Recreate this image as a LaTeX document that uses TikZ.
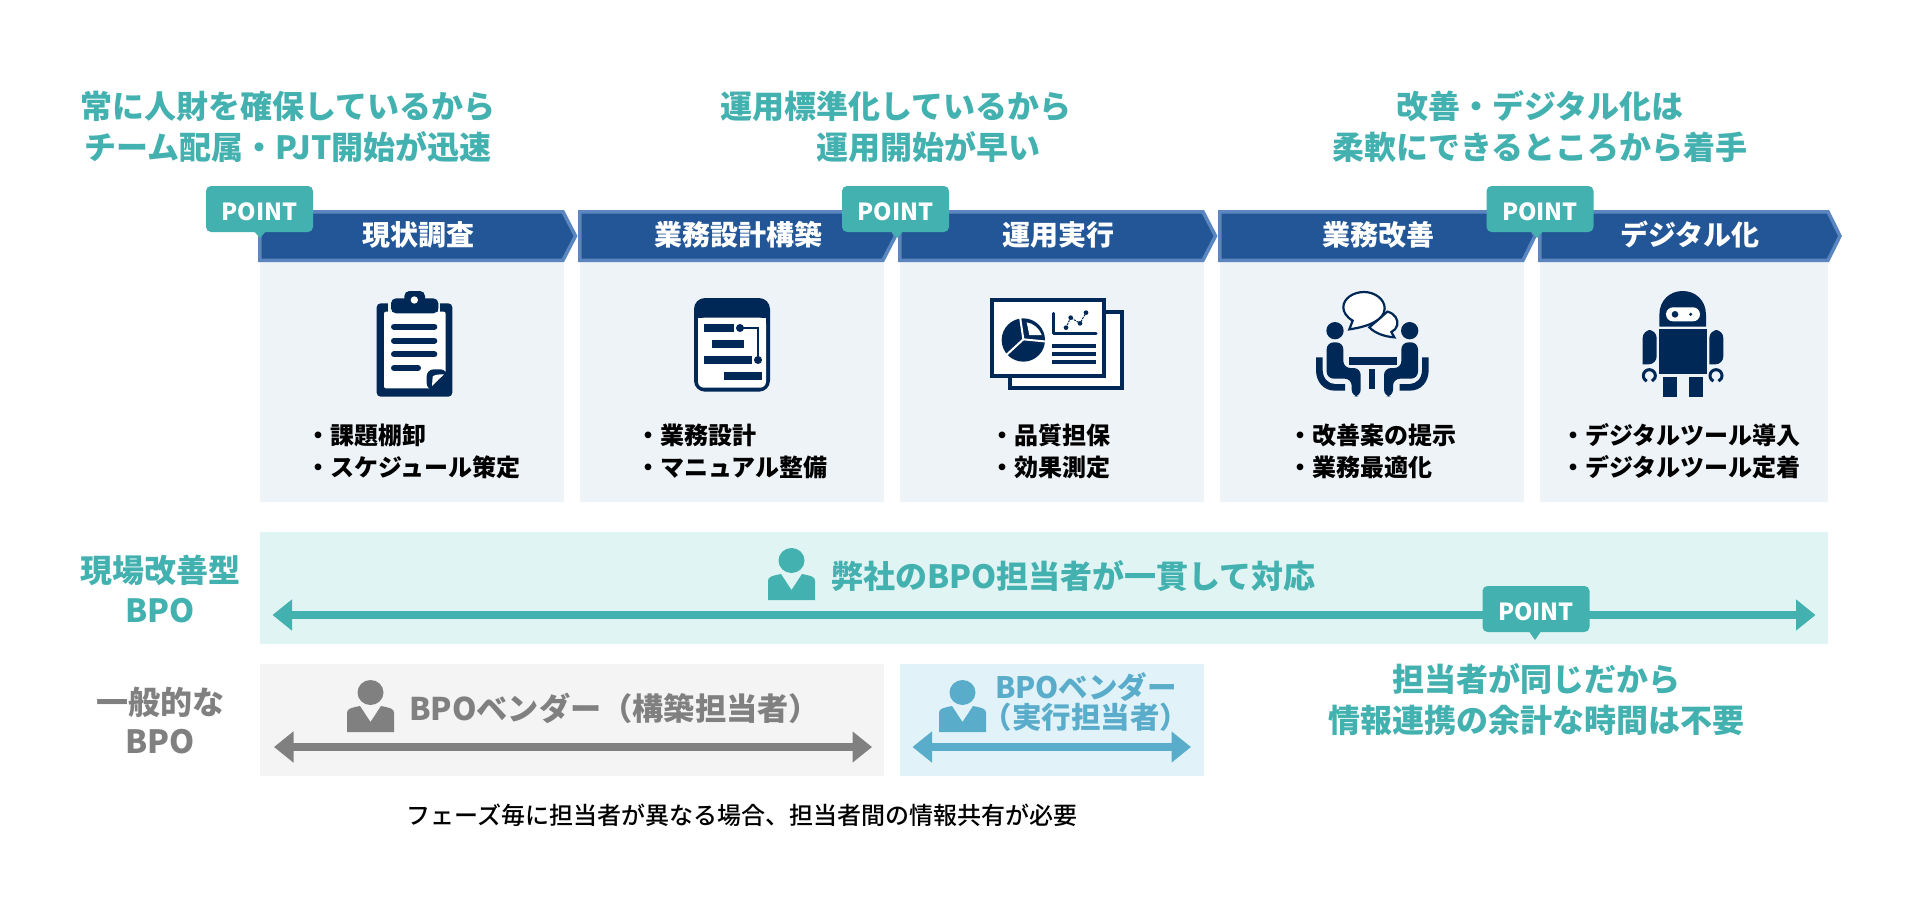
\documentclass[tikz,border=0pt]{standalone}
\usepackage{fontspec}
\setmainfont{Noto Sans CJK JP}
\newfontfamily\mediumfont{Noto Sans CJK JP Medium}
\usetikzlibrary{arrows.meta,calc}
\definecolor{teal}{HTML}{43B1AF}
\definecolor{navy}{HTML}{002856}
\definecolor{bannerfill}{HTML}{235696}
\definecolor{bannerline}{HTML}{5B86BF}
\definecolor{panelfill}{HTML}{EEF3F8}
\definecolor{bandteal}{HTML}{E0F5F3}
\definecolor{bandgray}{HTML}{F4F4F4}
\definecolor{bandblue}{HTML}{E1F3F9}
\definecolor{midgray}{HTML}{808080}
\definecolor{skyblue}{HTML}{5AACCB}
\newcommand{\fs}[1]{\fontsize{#1}{#1}\selectfont}
\tikzset{
  txt/.style={inner sep=0pt,outer sep=0pt,font=\bfseries\fs{#1}},
  headline/.style={txt=32,text=teal},
  bannerlabel/.style={txt=28,text=white},
  listitem/.style={txt=24,text=black,anchor=west},
  badge/.style={fill=teal,rounded corners=5pt,minimum width=107pt,minimum height=46pt,
    inner sep=0pt,text=white,text height=22pt,text depth=0pt,font=\bfseries\fs{23.5}},
  bannershape/.style={fill=bannerfill,draw=bannerline,line width=3.5pt,miter limit=10},
  panel/.style={fill=panelfill},
  biarrow/.style={line width=8pt,{Triangle[length=19.5pt,width=30pt]}-{Triangle[length=19.5pt,width=30pt]}},
  icon/.style={x=0.33333pt,y=-0.33333pt},
}
% Chevron banner: left edge, shoulder, tip (outer extents)
\newcommand{\chevron}[3]{%
  \draw[bannershape] (#1+1.75,211.75) -- (#2-1,211.75) -- (#3-2,236) -- (#2-1,260.25) -- (#1+1.75,260.25) -- cycle;}
% Bust of a person: left edge, top, colour
\newcommand{\personicon}[3]{%
  \begin{scope}[shift={(#1,#2)}]
    \fill[#3] (23.5,12.5) ellipse[x radius=13,y radius=12.5];
    \fill[#3] (0,52) -- (0,33) .. controls (0,29) and (3,28) .. (13,26) -- (23.5,42) -- (34,26)
      .. controls (44,28) and (47,29) .. (47,33) -- (47,52) -- cycle;
  \end{scope}}
% One seated figure with chair, drawn for the left side of the meeting icon
\newcommand{\seatedfigure}{%
  \fill[navy] (105,152) circle[radius=26];
  \fill[navy,rounded corners=7pt] (80,187) -- (130,187) -- (130,264) -- (182,264) -- (182,350)
     -- (155,350) -- (155,296) -- (80,296) -- cycle;
  \fill[navy] (48,232) -- (68,232) -- (68,270) .. controls (68,295) and (85,312) .. (105,312)
     -- (135,312) -- (135,332) -- (105,332) .. controls (70,332) and (48,305) .. (48,270) -- cycle;}

\begin{document}
\begin{tikzpicture}[x=1pt,y=-1pt]
\useasboundingbox (0,0) rectangle (1920,908);
\fill[white] (0,0) rectangle (1920,908);

% Headlines over the phases
\node[headline] (h1a) at (288,106) {常に人財を確保しているから};
\node[headline] (h1b) at (288,147) {チーム配属・PJT開始が迅速};
\node[headline] (h2a) at (896,106) {運用標準化しているから};
\node[headline] (h2b) at (928,147) {運用開始が早い};
\node[headline] (h3a) at (1540,106) {改善・デジタル化は};
\node[headline] (h3b) at (1540,147) {柔軟にできるところから着手};

% Panels under the banners
\fill[panel] (259.5,262) rectangle (564,502);
\fill[panel] (580,262) rectangle (884,502);
\fill[panel] (900,262) rectangle (1204,502);
\fill[panel] (1220,262) rectangle (1524,502);
\fill[panel] (1540,262) rectangle (1828,502);

% Phase banners
\chevron{258}{564}{577.5}
\chevron{578}{884}{897.5}
\chevron{898}{1204}{1217.5}
\chevron{1218}{1524}{1537}
\chevron{1538}{1829}{1842}
\node[bannerlabel] (b1) at (418,235) {現状調査};
\node[bannerlabel] (b2) at (738,235) {業務設計構築};
\node[bannerlabel] (b3) at (1058,235) {運用実行};
\node[bannerlabel] (b4) at (1378,235) {業務改善};
\node[bannerlabel] (b5) at (1690,235) {デジタル化};

% POINT badges
\fill[teal] (253,230) -- (267,230) -- (260,238) -- cycle;
\node[badge] (p1) at (259.5,209) {POINT};
\fill[teal] (890,230) -- (904,230) -- (897,238) -- cycle;
\node[badge] (p2) at (895.5,209) {POINT};
\fill[teal] (1530,230) -- (1544,230) -- (1537,238) -- cycle;
\node[badge] (p3) at (1540,209) {POINT};

% Clipboard icon
\begin{scope}[shift={(360,280)},icon]
  \fill[navy,rounded corners=4pt] (50,70) rectangle (277,350);
  \fill[white,rounded corners=2pt] (72,95) rectangle (257,325);
  \fill[panelfill] (88,60) rectangle (240,70);
  \fill[panelfill] (85,68) rectangle (95,95);
  \fill[panelfill] (235,68) rectangle (241,95);
  \fill[navy,rounded corners=5pt] (93,55) rectangle (235,100);
  \fill[navy,rounded corners=5pt] (133,33) rectangle (195,70);
  \fill[white] (163,60) circle[radius=11];
  \foreach \ly/\lx in {140/232,182/232,223/232,264/183}
    \draw[navy,line width=6pt,line cap=round] (102,\ly) -- (\lx-9,\ly);
  \fill[navy,rounded corners=7pt] (200,330) -- (200,268) -- (262,268) -- (262,330) -- cycle;
  \fill[white] (216,318) -- (218,290) .. controls (222,285) and (230,283) .. (252,283) -- cycle;
\end{scope}

% Process sheet icon
\begin{scope}[shift={(360,280)},icon]
  \fill[navy,rounded corners=11pt] (1002,54) rectangle (1230,335);
  \fill[white,rounded corners=6pt] (1014,113) rectangle (1218,323);
  \fill[white] (1014,113) rectangle (1218,130);
  \fill[navy] (1032,132) rectangle (1122,156);
  \fill[navy] (1056,180) rectangle (1152,204);
  \fill[navy] (1032,228) rectangle (1176,252);
  \fill[navy] (1092,276) rectangle (1206,300);
  \draw[navy,line width=2pt] (1140,144) -- (1194,144) -- (1194,240);
  \fill[navy] (1140,144) circle[radius=12];
  \fill[navy] (1194,240) circle[radius=12];
\end{scope}

% Report icon
\begin{scope}[shift={(970,280)},icon]
  \draw[navy,line width=4pt,fill=white] (120,96) rectangle (456,324);
  \draw[navy,line width=4pt,fill=white] (66,60) rectangle (402,288);
  \fill[navy] (160,180) circle[radius=65];
  \draw[white,line width=2pt] (150,110) -- (160,178) -- (232,185);
  \draw[white,line width=2pt] (160,178) -- (110,224);
  \fill[white] (170,127) .. controls (190,130) and (208,145) .. (215,165) -- (178,165) -- cycle;
  \draw[navy,line width=3pt,line cap=round,line join=round] (250,100) -- (250,160) -- (378,160);
  \draw[navy,line width=1pt,dash pattern=on 2pt off 1pt] (288,143) -- (302,113) -- (330,130) -- (348,98);
  \foreach \px/\py in {288/143,302/113,330/130,348/98}
    \fill[navy] (\px,\py) circle[radius=7];
  \foreach \ly in {198,222,246}
    \fill[navy] (246,\ly-6) rectangle (378,\ly+6);
\end{scope}

% Meeting icon
\begin{scope}[shift={(1300,280)},icon]
  \draw[navy,line width=2.2pt,fill=white] (262,95) .. controls (285,100) and (295,120) .. (292,135)
     .. controls (290,145) and (282,152) .. (274,156) -- (283,172) .. controls (255,170) and (225,160) .. (208,142) -- cycle;
  \draw[navy,line width=2.2pt,fill=white] (148,148) -- (158,122) .. controls (138,110) and (130,95) .. (130,82)
     .. controls (130,55) and (160,36) .. (192,36) .. controls (225,36) and (254,58) .. (254,85)
     .. controls (254,120) and (205,140) .. cycle;
  \fill[navy] (148,232) rectangle (290,256);
  \fill[navy] (208,268) rectangle (226,326);
  \seatedfigure
\end{scope}
\begin{scope}[shift={(1444.67,280)},x=-0.33333pt,y=-0.33333pt]
  \seatedfigure
\end{scope}

% Robot icon
\begin{scope}[shift={(1620,280)},icon]
  \fill[navy] (118,140) -- (118,105) .. controls (118,60) and (150,33) .. (188,33)
     .. controls (226,33) and (258,60) .. (258,105) -- (258,140) -- cycle;
  \fill[white,rounded corners=7pt] (138,82) rectangle (240,124);
  \fill[navy] (165,103) circle[radius=10];
  \fill[navy] (212,103) circle[radius=5];
  \fill[navy] (118,147) rectangle (260,283);
  \fill[navy,rounded corners=8pt] (68,253) -- (68,150) -- (110,150) -- (110,253) [sharp corners] -- cycle;
  \fill[navy,rounded corners=8pt] (268,253) -- (268,150) -- (310,150) -- (310,253) [sharp corners] -- cycle;
  \draw[navy,line width=3pt] (88,287) +(115:18) arc[start angle=115,end angle=425,radius=18];
  \draw[navy,line width=3pt] (288,287) +(115:18) arc[start angle=115,end angle=425,radius=18];
  \fill[navy] (130,291) rectangle (172,350);
  \fill[navy] (207,291) rectangle (250,350);
\end{scope}

% Task lists
\node[listitem] (l1a) at (306.5,435) {・課題棚卸};
\node[listitem] (l1b) at (306.5,467) {・スケジュール策定};
\node[listitem] (l2a) at (636,435) {・業務設計};
\node[listitem] (l2b) at (636,467) {・マニュアル整備};
\node[listitem] (l3a) at (990.5,435) {・品質担保};
\node[listitem] (l3b) at (990.5,467) {・効果測定};
\node[listitem] (l4a) at (1288.5,435) {・改善案の提示};
\node[listitem] (l4b) at (1288.5,467) {・業務最適化};
\node[listitem] (l5a) at (1561,435) {・デジタルツール導入};
\node[listitem] (l5b) at (1561,467) {・デジタルツール定着};

% Responsibility bands
\fill[bandteal] (260,532) rectangle (1828,644);
\fill[bandgray] (260,664) rectangle (884,776);
\fill[bandblue] (900,664) rectangle (1204,776);

\node[txt=32,text=teal] (r1) at (160,570) {現場改善型};
\node[txt=32,text=teal] (r2) at (160,611) {BPO};
\node[txt=32,text=midgray] (g1) at (160,702) {一般的な};
\node[txt=32,text=midgray] (g2) at (160,742) {BPO};

\personicon{768}{548}{teal}
\node[txt=32,text=teal,anchor=west] (t1) at (831,576) {弊社のBPO担当者が一貫して対応};
\coordinate (ta) at (272.5,615);
\coordinate (tb) at (1815.5,615);
\draw[biarrow,teal] (ta) -- (tb);
\fill[teal] (1528,630) -- (1542,630) -- (1535,640) -- cycle;
\node[badge] (p4) at (1536,609) {POINT};

\personicon{347}{680}{midgray}
\node[txt=31.2,text=midgray,anchor=west] (t2) at (409,708) {BPOベンダー（構築担当者）};
\coordinate (ga) at (274,747);
\coordinate (gb) at (872,747);
\draw[biarrow,midgray] (ga) -- (gb);

\personicon{939}{680}{skyblue}
\node[txt=29.5,text=skyblue] (t3) at (1086,687) {BPOベンダー};
\node[txt=29.5,text=skyblue] (t4) at (1086,717) {（実行担当者）};
\coordinate (ba) at (912.5,747);
\coordinate (bb) at (1191,747);
\draw[biarrow,skyblue] (ba) -- (bb);

% Notes under the bands
\node[headline] (n1) at (1536,679) {担当者が同じだから};
\node[headline] (n2) at (1536,720) {情報連携の余計な時間は不要};
\node[inner sep=0pt,anchor=west,text=black,font=\mediumfont\fs{24}] (n3) at (406,815) {フェーズ毎に担当者が異なる場合、担当者間の情報共有が必要};
\end{tikzpicture}
\end{document}
